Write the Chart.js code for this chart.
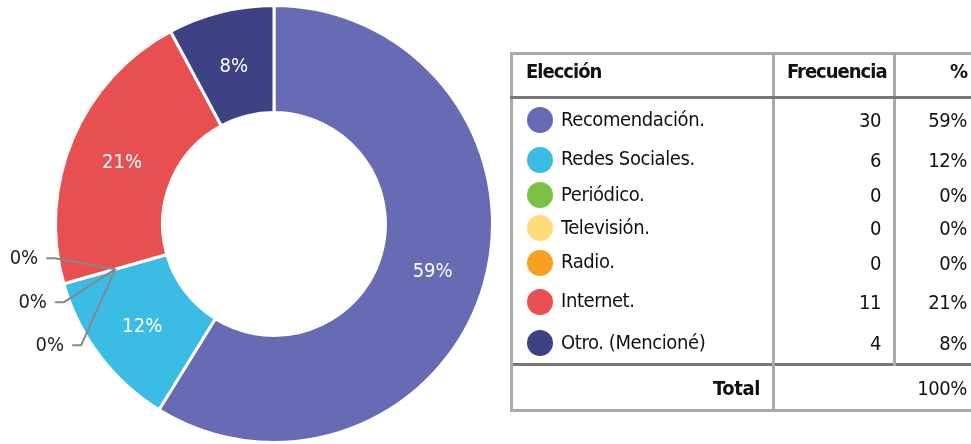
<!DOCTYPE html>
<html>
<head>
<meta charset="utf-8">
<script src="https://cdn.jsdelivr.net/npm/chart.js@4/dist/chart.umd.min.js"></script>
<style>
  html, body { margin: 0; padding: 0; background: #fff; overflow: hidden; }
  body { width: 971px; height: 444px; position: relative;
         font-family: "DejaVu Sans Condensed", "Liberation Sans Narrow", sans-serif; color: #111; }
  #wrap { position: absolute; left: 0; top: 0; width: 548px; height: 444px; }
  #tabla { position: absolute; left: 510px; top: 52px; border-collapse: collapse; table-layout: fixed;
           width: 474px; border: 3px solid #aaa; font-size: 20px; letter-spacing: -0.4px; }
  #tabla td, #tabla th { padding: 0 12px; border-left: 3px solid #aaa; border-right: 3px solid #aaa;
           white-space: nowrap; overflow: visible; }
  #tabla th { height: 44px; text-align: right; font-weight: bold; border-bottom: 3px solid #777;
              vertical-align: top; padding-top: 4px; box-sizing: border-box; letter-spacing: -1px; }
  #tabla th.first { text-align: left; padding-left: 13px; }
  #tabla td.num { text-align: right; }
  #tabla td.name { padding-left: 14px; }
  #tabla td.last, #tabla th.last { padding-right: 17px; }
  .dot { display: inline-block; width: 26px; height: 26px; border-radius: 50%;
         vertical-align: middle; margin-right: 8px; }
  #tabla tr.total td { border-top: 3px solid #777; height: 43px; font-weight: bold; }
  #tabla tr.total td.pct { font-weight: normal; }
</style>
</head>
<body>
<div id="wrap"><canvas id="dona"></canvas></div>
<table id="tabla"></table>
<script>
const categories = ['Recomendación.', 'Redes Sociales.', 'Periódico.', 'Televisión.', 'Radio.', 'Internet.', 'Otro. (Mencioné)'];
const frequencies = [30, 6, 0, 0, 0, 11, 4];
const percentLabels = ['59%', '12%', '0%', '0%', '0%', '21%', '8%'];
const headers = ['Elección', 'Frecuencia', '%'];
const totalLabel = 'Total';
const totalPercent = '100%';
const colors = ['#676bb4', '#3bbce5', '#7bc144', '#fedc7a', '#f7a01f', '#e84f51', '#3e4183'];
const rowHeights = [43, 38, 33, 33, 36, 42, 42];
const colWidths = [262, 121, 91];

// tabla
let tabla = document.getElementById('tabla')
let html = '<colgroup>' + colWidths.map(w => '<col style="width:' + w + 'px">').join('') + '</colgroup>'
html += '<tr><th class="first">' + headers[0] + '</th><th>' + headers[1] + '</th><th class="last">' + headers[2] + '</th></tr>'
for (let i = 0; i < categories.length; i++) {
  html += '<tr style="height:' + rowHeights[i] + 'px"><td class="name"><span class="dot" style="background:' + colors[i] + '"></span>' +
    categories[i] + '</td><td class="num">' + frequencies[i] + '</td><td class="num last">' + percentLabels[i] + '</td></tr>'
}
html += '<tr class="total"><td class="num">' + totalLabel + '</td><td class="num pct last" colspan="2">' + totalPercent + '</td></tr>'
tabla.innerHTML = html

// etiquetas dentro y fuera de la dona
const labelPlugin = {
  id: 'labelPlugin',
  afterDatasetsDraw(chart) {
    const ctx = chart.ctx
    const meta = chart.getDatasetMeta(0)
    const zeroOffsets = [-11, 33, 76]
    const elbowGap = [3, 6, 11]
    let z = 0
    ctx.save()
    ctx.font = '20px "DejaVu Sans Condensed", "Liberation Sans Narrow", sans-serif'
    ctx.textBaseline = 'middle'
    meta.data.forEach(function (arc, i) {
      const p = arc.tooltipPosition()
      if (frequencies[i] > 0) {
        ctx.fillStyle = '#fff'
        ctx.textAlign = 'center'
        ctx.fillText(percentLabels[i], p.x, p.y + 3)
      } else {
        const cx = arc.x, cy = arc.y, r = arc.outerRadius
        const y = p.y + zeroOffsets[z % zeroOffsets.length]
        const dy = y - cy
        const ex = cx - Math.sqrt(Math.max(r * r - dy * dy, 0)) - elbowGap[z % elbowGap.length]
        const sx = ex - 9
        ctx.strokeStyle = '#888'
        ctx.lineWidth = 2
        ctx.beginPath()
        ctx.moveTo(p.x, p.y)
        ctx.lineTo(ex, y)
        ctx.lineTo(sx, y)
        ctx.stroke()
        ctx.fillStyle = '#222'
        ctx.textAlign = 'right'
        ctx.fillText(percentLabels[i], sx - 8, y + 1)
        z++
      }
    })
    ctx.restore()
  }
}

let dona = new Chart(document.getElementById('dona'), {
  type: 'doughnut',
  data: {
    labels: categories,
    datasets: [{
      data: frequencies,
      backgroundColor: colors,
      borderColor: '#fff',
      borderWidth: 3
    }]
  },
  options: {
    responsive: true,
    maintainAspectRatio: false,
    animation: false,
    cutout: '51%',
    layout: { padding: { top: 4, bottom: 0, left: 54, right: 54 } },
    plugins: { legend: { display: false }, tooltip: { enabled: false } }
  },
  plugins: [labelPlugin]
})
</script>
</body>
</html>
